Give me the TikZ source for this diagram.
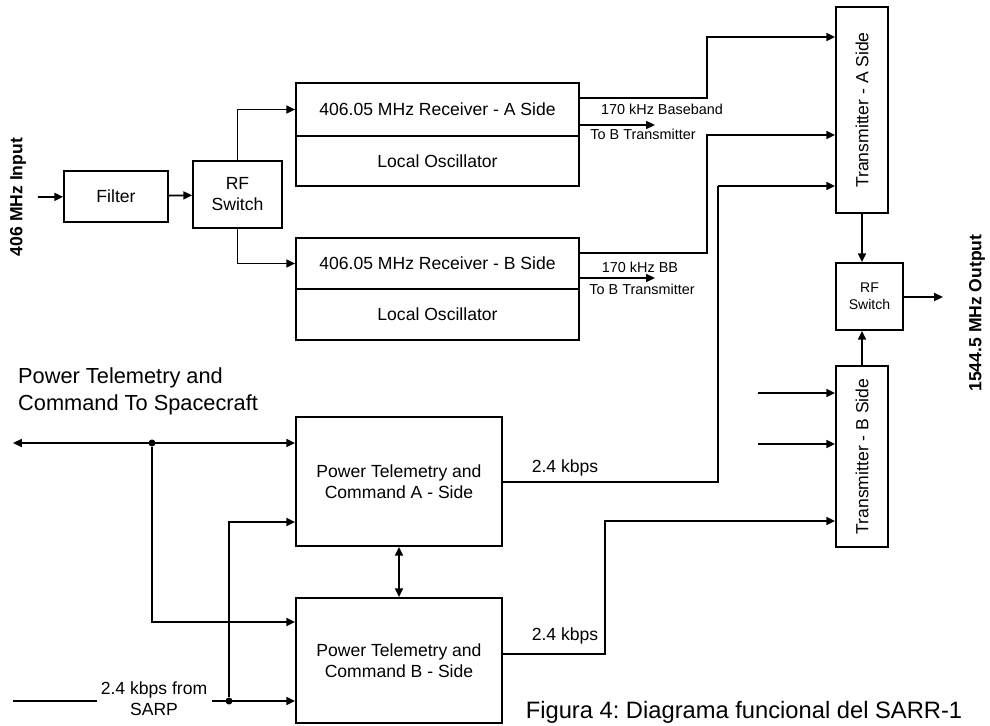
\documentclass[tikz,border=0pt]{standalone}
\usepackage{fontspec}
\setmainfont{Liberation Sans}
\usepackage{tikz}
\usetikzlibrary{arrows.meta,positioning}
\frenchspacing

\begin{document}
\begin{tikzpicture}[
  x=0.02cm, y=-0.02cm,
  every node/.style={font=\fontsize{10}{12}\selectfont},
  blk/.style={draw, line width=1pt, align=center, inner sep=1pt},
  small/.style={font=\fontsize{8.2}{9.5}\selectfont},
  side/.style={font=\fontsize{10}{12}\selectfont\bfseries, rotate=90},
  arr/.style={-{Triangle[length=5pt,width=4.5pt]}, line width=1pt},
  barr/.style={{Triangle[length=5pt,width=4.5pt]}-{Triangle[length=5pt,width=4.5pt]}, line width=1pt},
  wire/.style={line width=1pt},
  dot/.style={circle, fill, inner sep=0pt, minimum size=4pt}
]
  \useasboundingbox (0,0) rectangle (990,726);

  % receiver chain
  \node[side] (inlbl) at (18,197) {406 MHz Input};
  \coordinate (in) at (38,197);
  \node[blk, minimum width=2.08cm, minimum height=1.02cm] (filter) at (116,196.5) {Filter};
  \node[blk, minimum width=1.78cm, minimum height=1.34cm] (rfsw) at (237.5,194.5) {RF\\Switch};
  \node[blk, minimum width=5.66cm, minimum height=1.06cm] (rxa) at (437.5,109.5) {406.05 MHz Receiver - A Side};
  \node[blk, minimum width=5.66cm, minimum height=1.00cm, below=-1pt of rxa] (loa) {Local Oscillator};
  \node[blk, minimum width=5.66cm, minimum height=1.02cm] (rxb) at (437.5,263.5) {406.05 MHz Receiver - B Side};
  \node[blk, minimum width=5.66cm, minimum height=1.02cm, below=-1pt of rxb] (lob) {Local Oscillator};

  \draw[arr] (in) -- (filter);
  \draw[arr] (filter) -- (rfsw);
  \draw[arr] (rfsw.north) |- (rxa.west);
  \draw[arr] (rfsw.south) |- (rxb.west);

  % transmitters
  \node[blk, minimum width=1.04cm, minimum height=4.12cm] (txa) at (862,110) {\rotatebox{90}{Transmitter - A Side}};
  \node[blk, minimum width=1.34cm, minimum height=1.34cm, font=\fontsize{8}{9.5}\selectfont] (rfsw2) at (869.5,296.5) {RF\\Switch};
  \node[blk, minimum width=1.04cm, minimum height=3.62cm] (txb) at (862,456.5) {\rotatebox{90}{Transmitter - B Side}};
  \node[side] (outlbl) at (977,313) {1544.5 MHz Output};
  \coordinate (out) at (943,297);

  \draw[arr] (txa.south) -- (txa.south |- rfsw2.north);
  \draw[arr] (txb.north) -- (txb.north |- rfsw2.south);
  \draw[arr] (rfsw2.east |- out) -- (out);

  % baseband outputs
  \draw[arr] (rxa.east |- 0,98) -| (707,37) -- (txa.west |- 0,37);
  \draw[arr] (rxb.east |- 0,253) -| (707,135) -- (txa.west |- 0,135);
  \coordinate (toba) at (655,125);
  \coordinate (tobb) at (655,278);
  \draw[arr] (rxa.east |- toba) -- (toba);
  \draw[arr] (rxb.east |- tobb) -- (tobb);
  \node[small] (bba) at (662,109) {170 kHz Baseband};
  \node[small] (tba) at (643,134) {To B Transmitter};
  \node[small] (bbb) at (640,267) {170 kHz BB};
  \node[small] (tbb) at (642,289) {To B Transmitter};

  \foreach \y/\n in {393/ia, 444/ib} {
    \coordinate (\n) at (758,\y);
    \draw[arr] (\n) -- (txb.west |- \n);
  }

  % power telemetry and command
  \node[font=\fontsize{12.4}{15.5}\selectfont, align=left, anchor=west] (ptclbl) at (12,391) {Power Telemetry and\\Command To Spacecraft};
  \node[blk, minimum width=4.12cm, minimum height=2.58cm] (ptca) at (399,481.5) {Power Telemetry and\\Command A - Side};
  \node[blk, minimum width=4.12cm, minimum height=2.5cm] (ptcb) at (399,660.5) {Power Telemetry and\\Command B - Side};
  \draw[barr] (ptca.south) -- (ptcb.north);

  \draw[wire] (ptca.east |- 0,482) -| (718,186);
  \draw[arr] (718,186) -- (txa.west |- 0,186);
  \draw[arr] (ptcb.east |- 0,654) -| (605,521) -- (txb.west |- 0,521);
  \node (kba) at (565,468) {2.4 kbps};
  \node (kbb) at (565,636) {2.4 kbps};

  \coordinate (sc) at (13,443);
  \node[dot] (j1) at (152,443) {};
  \draw[barr] (sc) -- (ptca.west |- sc);
  \draw[arr] (j1) |- (ptcb.west |- 0,622);

  \coordinate (sarp) at (13,701);
  \node[align=center] (sarplbl) at (154,699) {2.4 kbps from\\SARP};
  \node[dot] (j2) at (229,701) {};
  \draw[wire] (sarp) -- (97,701);
  \draw[arr] (212,701) -- (ptcb.west |- j2);
  \draw[arr] (j2) |- (ptca.west |- 0,522);

  \node[font=\fontsize{13.5}{16}\selectfont] (cap) at (744,712) {Figura 4: Diagrama funcional del SARR-1};
\end{tikzpicture}
\end{document}
